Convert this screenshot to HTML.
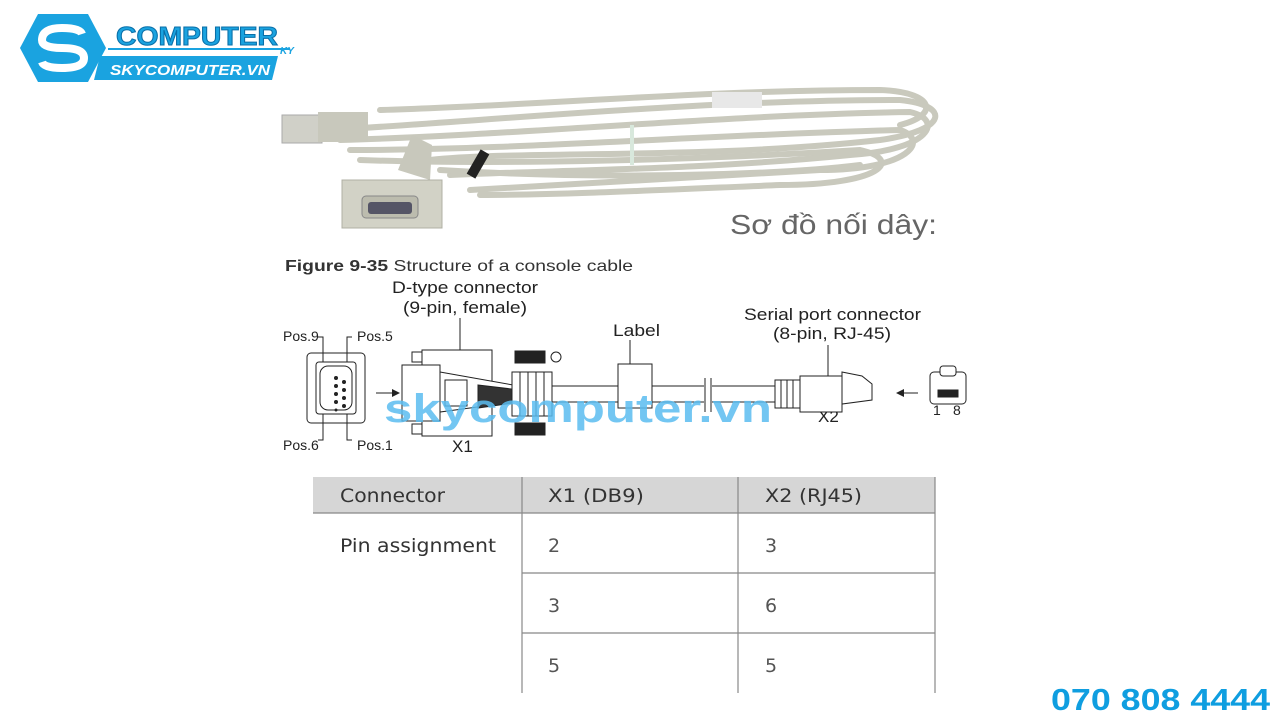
<!DOCTYPE html>
<html><head><meta charset="utf-8"><style>
html,body{margin:0;padding:0;background:#fff;width:1280px;height:720px;overflow:hidden}
svg{display:block}
</style></head><body>
<svg width="1280" height="720" viewBox="0 0 1280 720" xmlns="http://www.w3.org/2000/svg" font-family="Liberation Sans, sans-serif">
<!-- logo -->
<polygon points="38,14 88,14 106,48 88,82 38,82 20,48" fill="#1aa3e0"/>
<path d="M82,34 Q80,28 62,28 Q42,28 42,40 Q42,48 62,48 Q84,48 84,58 Q84,68 62,68 Q44,68 42,62" fill="none" stroke="#fff" stroke-width="8"/>
<text x="116" y="45" font-size="26" font-weight="bold" fill="#1aa3e0" stroke="#0a6fa8" stroke-width="1" textLength="162" lengthAdjust="spacingAndGlyphs">COMPUTER</text>
<text x="280" y="54" font-size="10" font-weight="bold" font-style="italic" fill="#1aa3e0">KY</text>
<line x1="108" y1="49" x2="290" y2="49" stroke="#1aa3e0" stroke-width="2"/>
<polygon points="100,56 278,56 272,80 94,80" fill="#1aa3e0"/>
<text x="110" y="75" font-size="15" font-weight="bold" font-style="italic" fill="#fff" textLength="160" lengthAdjust="spacingAndGlyphs">SKYCOMPUTER.VN</text>

<!-- cable photo approximation -->
<g fill="none" stroke="#c9c9bd" stroke-width="6" stroke-linecap="round">
<path d="M330,130 C500,120 700,100 900,100 C950,105 950,130 880,140 C700,160 520,150 430,160"/>
<path d="M340,140 C520,135 720,115 910,112 C945,120 930,150 850,155 C700,170 560,170 450,175"/>
<path d="M350,150 C520,150 700,135 900,130 C930,140 910,170 820,170 C680,178 560,185 470,190"/>
<path d="M360,160 C500,165 700,160 860,150 C905,160 880,185 780,185 C660,190 560,195 480,195"/>
<path d="M380,110 C550,105 700,90 880,90 C935,92 940,115 900,125"/>
<path d="M440,170 C600,180 780,175 860,165"/>
</g>
<rect x="712" y="92" width="50" height="16" fill="#e8e8e8"/>
<line x1="632" y1="125" x2="632" y2="165" stroke="#d8e8dc" stroke-width="4"/>
<rect x="282" y="115" width="40" height="28" fill="#d0d0c8" stroke="#aaa"/>
<rect x="318" y="112" width="50" height="30" fill="#c8c8bc"/>
<polygon points="398,170 412,135 432,145 430,180" fill="#c8c8bc"/>
<rect x="473" y="150" width="10" height="28" fill="#222" transform="rotate(30 478 164)"/>
<rect x="342" y="180" width="100" height="48" fill="#d2d2c6" stroke="#b0b0a4"/>
<rect x="362" y="196" width="56" height="22" rx="4" fill="#bcbcae" stroke="#888"/>
<rect x="368" y="202" width="44" height="12" rx="3" fill="#556"/>

<text x="730" y="234" font-size="28" fill="#666" textLength="207" lengthAdjust="spacingAndGlyphs">Sơ đồ nối dây:</text>

<!-- figure -->
<text x="285" y="271" font-size="16" fill="#333" textLength="348" lengthAdjust="spacingAndGlyphs"><tspan font-weight="bold">Figure 9-35</tspan> Structure of a console cable</text>
<g font-size="17" fill="#222">
<text x="392" y="293" textLength="146" lengthAdjust="spacingAndGlyphs">D-type connector</text>
<text x="403" y="313" textLength="124" lengthAdjust="spacingAndGlyphs">(9-pin, female)</text>
<text x="613" y="336" textLength="47" lengthAdjust="spacingAndGlyphs">Label</text>
<text x="744" y="320" textLength="177" lengthAdjust="spacingAndGlyphs">Serial port connector</text>
<text x="773" y="339" textLength="118" lengthAdjust="spacingAndGlyphs">(8-pin, RJ-45)</text>
<text x="452" y="452">X1</text>
<text x="818" y="422">X2</text>
<text x="933" y="415" font-size="14">1</text><text x="953" y="415" font-size="14">8</text>
</g>
<g font-size="14" fill="#222">
<text x="283" y="341">Pos.9</text><text x="357" y="341">Pos.5</text>
<text x="283" y="450">Pos.6</text><text x="357" y="450">Pos.1</text>
</g>
<g stroke="#222" fill="none" stroke-width="1">
<path d="M318,337 H323 V440 H318"/><path d="M352,337 H347 V440 H352"/>
<rect x="307" y="353" width="58" height="70" rx="4"/>
<rect x="316" y="362" width="40" height="52" rx="3" fill="#fff"/>
<rect x="320" y="366" width="32" height="44" rx="8" fill="#fff"/>
<line x1="460" y1="318" x2="460" y2="355"/>
<line x1="630" y1="340" x2="630" y2="365"/>
<line x1="828" y1="345" x2="828" y2="380"/>
<line x1="376" y1="393" x2="394" y2="393"/><line x1="918" y1="393" x2="900" y2="393"/>
<rect x="422" y="350" width="70" height="86" fill="#fff"/>
<rect x="402" y="365" width="38" height="56" fill="#fff"/>
<polygon points="440,372 530,388 530,400 440,412" fill="#fff"/>
<rect x="445" y="380" width="22" height="26"/>
<polygon points="478,385 520,390 520,402 478,408" fill="#333"/>
<rect x="512" y="372" width="40" height="44" fill="#fff"/>
<line x1="520" y1="372" x2="520" y2="416"/><line x1="528" y1="372" x2="528" y2="416"/><line x1="536" y1="372" x2="536" y2="416"/><line x1="544" y1="372" x2="544" y2="416"/>
<rect x="515" y="351" width="30" height="12" fill="#222"/><rect x="515" y="423" width="30" height="12" fill="#222"/>
<circle cx="556" cy="357" r="5"/>
<rect x="412" y="352" width="10" height="10"/><rect x="412" y="424" width="10" height="10"/>
<line x1="552" y1="386" x2="775" y2="386"/><line x1="552" y1="402" x2="775" y2="402"/>
<rect x="618" y="364" width="34" height="44" fill="#fff"/>
<rect x="704" y="378" width="8" height="34" fill="#fff" stroke="none"/>
<line x1="705" y1="378" x2="705" y2="412"/><line x1="711" y1="378" x2="711" y2="412"/>
<rect x="775" y="380" width="26" height="28" fill="#fff"/>
<line x1="781" y1="380" x2="781" y2="408"/><line x1="787" y1="380" x2="787" y2="408"/><line x1="793" y1="380" x2="793" y2="408"/>
<rect x="800" y="376" width="42" height="36" fill="#fff"/>
<polygon points="842,372 862,376 872,384 872,400 842,404" fill="#fff"/>
<rect x="930" y="372" width="36" height="32" rx="4" fill="#fff"/>
<rect x="940" y="366" width="16" height="10" rx="3" fill="#fff"/>
<rect x="938" y="390" width="20" height="7" fill="#222"/>
</g>
<g fill="#222">
<circle cx="336" cy="378" r="2"/><circle cx="336" cy="386" r="2"/><circle cx="336" cy="394" r="2"/><circle cx="336" cy="402" r="2"/><circle cx="336" cy="410" r="1.5"/>
<circle cx="344" cy="382" r="2"/><circle cx="344" cy="390" r="2"/><circle cx="344" cy="398" r="2"/><circle cx="344" cy="406" r="2"/>
<polygon points="400,393 392,389 392,397"/><polygon points="896,393 904,389 904,397"/>
</g>
<text x="384" y="422" font-size="40" font-weight="bold" fill="#5bbdf0" opacity="0.85" textLength="388" lengthAdjust="spacingAndGlyphs">skycomputer.vn</text>

<!-- table -->
<rect x="313" y="477" width="622" height="36" fill="#d6d6d6"/>
<g stroke="#888" stroke-width="1.2">
<line x1="313" y1="513" x2="935" y2="513"/>
<line x1="522" y1="573" x2="935" y2="573"/><line x1="522" y1="633" x2="935" y2="633"/>
<line x1="522" y1="477" x2="522" y2="693"/><line x1="738" y1="477" x2="738" y2="693"/><line x1="935" y1="477" x2="935" y2="693"/>
</g>
<g font-family="DejaVu Sans, sans-serif" font-size="19" fill="#333">
<text x="340" y="502" textLength="105" lengthAdjust="spacingAndGlyphs">Connector</text><text x="548" y="502" textLength="96" lengthAdjust="spacingAndGlyphs">X1 (DB9)</text><text x="765" y="502" textLength="97" lengthAdjust="spacingAndGlyphs">X2 (RJ45)</text>
<text x="340" y="552" textLength="156" lengthAdjust="spacingAndGlyphs">Pin assignment</text>
<text x="548" y="552" fill="#555">2</text><text x="765" y="552" fill="#555">3</text>
<text x="548" y="612" fill="#555">3</text><text x="765" y="612" fill="#555">6</text>
<text x="548" y="672" fill="#555">5</text><text x="765" y="672" fill="#555">5</text>
</g>
<text x="1051" y="710" font-size="31" font-weight="bold" fill="#0f9ee0" textLength="219" lengthAdjust="spacingAndGlyphs">070 808 4444</text>
</svg>
</body></html>
